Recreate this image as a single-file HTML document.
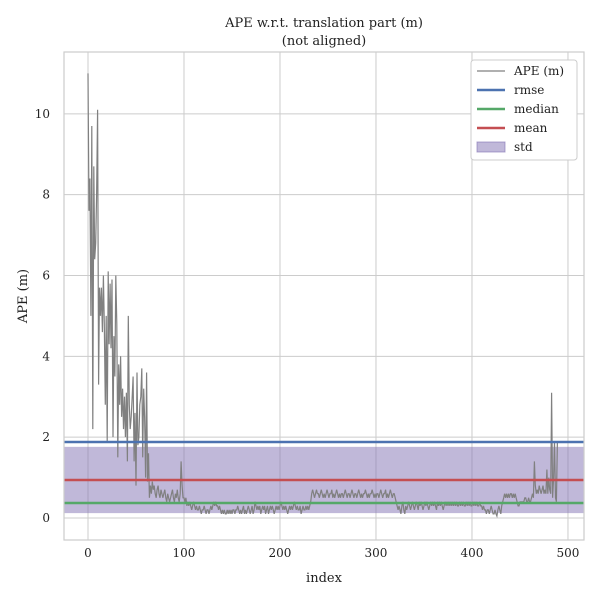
<!DOCTYPE html>
<html><head><meta charset="utf-8"><style>
body{margin:0;background:#fff}
svg text{font-family:"DejaVu Serif","Liberation Serif",serif;fill:#222}
</style></head><body>
<svg id="chart" width="600" height="600" xmlns="http://www.w3.org/2000/svg"></svg>
<script>
const apeValues=[
11.0,7.6,8.4,5.0,9.7,2.2,8.7,6.4,6.8,8.0,10.1,3.3,5.7,5.0,5.7,4.6,6.0,4.8,2.8,5.0,
1.9,6.1,4.3,5.8,4.2,5.9,2.0,4.5,3.5,6.0,4.8,1.5,3.8,2.8,4.0,2.5,3.2,2.2,3.0,2.0,
3.1,1.4,5.0,2.8,2.2,2.5,3.0,3.5,1.4,2.6,0.8,3.6,1.8,2.0,2.8,3.0,3.7,1.5,3.2,2.5,
1.0,3.6,0.9,1.6,0.5,0.8,0.6,0.9,0.7,0.8,
0.6,0.5,0.7,0.8,0.6,0.5,0.7,0.6,0.5,0.6,0.7,0.5,0.4,0.6,0.5,0.4,0.5,0.6,0.7,0.5,
0.4,0.6,0.5,0.7,0.5,0.4,0.6,1.4,0.8,0.5,
0.5,0.4,0.5,0.3,0.4,0.3,0.4,0.3,0.2,0.3,0.4,0.3,0.2,0.3,0.2,0.2,0.3,0.2,0.1,0.2,
0.2,0.3,0.2,0.1,0.2,0.2,0.1,0.2,0.3,0.2,
0.3,0.4,0.3,0.4,0.3,0.3,0.2,0.3,0.2,0.1,0.2,0.1,0.2,0.1,0.1,0.2,0.1,0.2,0.1,0.2,
0.1,0.2,0.2,0.1,0.2,0.2,0.3,0.2,0.1,0.2,0.1,0.2,0.3,0.1,0.2,0.1,0.2,0.3,0.2,0.1,
0.2,0.3,0.1,0.2,0.4,0.3,0.2,0.3,0.2,0.3,0.1,0.2,0.3,0.2,0.3,0.1,0.2,0.3,0.1,0.2,
0.3,0.2,0.3,0.2,0.1,0.2,0.3,0.2,0.3,0.2,0.3,0.4,0.3,0.2,0.3,0.2,0.3,0.2,0.1,0.2,
0.3,0.2,0.3,0.2,0.3,0.4,0.3,0.2,0.3,0.2,
0.2,0.3,0.1,0.2,0.3,0.2,0.2,0.3,0.2,0.3,0.2,0.3,
0.4,0.6,0.7,0.6,0.5,0.6,0.7,0.6,0.6,0.5,0.6,0.7,0.6,0.5,0.6,0.5,0.6,0.7,0.6,0.5,
0.6,0.6,0.7,0.5,0.6,0.5,0.6,0.7,0.6,0.5,0.6,0.5,0.6,0.6,0.5,0.6,0.7,0.6,0.5,0.6,
0.6,0.5,0.6,0.7,0.6,0.5,0.6,0.6,0.5,0.6,0.7,0.6,0.5,0.6,0.5,0.6,0.6,0.7,0.6,0.5,
0.6,0.5,0.6,0.6,0.7,0.6,0.5,0.6,0.5,0.6,0.6,0.5,0.6,0.7,0.6,0.5,0.6,0.6,0.7,0.5,
0.6,0.5,0.6,0.7,0.6,0.5,0.6,0.6,
0.5,0.4,0.3,0.2,0.3,0.2,0.1,0.3,0.4,0.2,0.1,0.3,0.2,0.3,0.4,0.3,0.2,0.3,0.4,0.3,
0.2,0.3,0.4,0.3,0.2,0.4,0.3,0.4,0.3,0.2,0.3,0.4,0.3,0.4,0.3,0.2,0.3,0.4,0.3,0.4,
0.3,0.4,0.3,0.2,0.4,0.3,0.4,0.3,0.4,0.3,0.2,0.3,0.4,0.3,0.4,0.3,0.4,0.3,0.4,0.3,
0.4,0.3,0.4,0.3,0.4,0.3,0.3,0.4,0.3,0.4,0.3,0.4,0.3,0.3,0.4,0.3,0.4,0.3,0.4,0.3,
0.3,0.4,0.3,0.4,0.3,0.4,0.3,0.3,0.4,0.3,
0.3,0.2,0.3,0.2,0.2,0.1,0.2,0.2,0.1,0.2,0.3,0.2,0.1,0.1,0.2,0.1,0.05,0.2,0.3,0.2,0.1,0.3,0.4,
0.5,0.6,0.5,0.6,0.5,0.6,0.5,0.6,0.6,0.5,0.6,0.5,0.6,0.5,0.4,0.3,0.3,0.4,0.4,0.4,
0.4,0.4,0.5,0.5,0.4,0.4,0.5,0.4,0.4,0.5,0.6,0.5,
1.4,0.8,0.6,0.7,0.6,0.8,0.7,0.6,0.7,0.8,0.6,0.7,0.6,1.2,0.6,1.0,0.7,0.6,
3.1,0.5,1.0,1.9,0.5,0.4,1.9
];
const rmse=1.88, median=0.37, mean=0.94, stdLo=0.12, stdHi=1.76;
const xTicks=[0,100,200,300,400,500];
const yTicks=[0,2,4,6,8,10];

const svg=document.getElementById('chart');
const NS='http://www.w3.org/2000/svg';
const L=64,R=584,T=52,B=540;
const xMin=-25,xMax=516.7,yMin=-0.545,yMax=11.53;
const sx=v=>L+(v-xMin)/(xMax-xMin)*(R-L);
const sy=v=>B-(v-yMin)/(yMax-yMin)*(B-T);
function el(tag,attrs,parent){const e=document.createElementNS(NS,tag);for(const k in attrs)e.setAttribute(k,attrs[k]);(parent||svg).appendChild(e);return e;}

const grid=el('g',{});


xTicks.forEach(t=>{
  const l=el('line',{x1:sx(t),x2:sx(t),y1:T,y2:B,stroke:'#cccccc','stroke-width':1},grid);
  
  
  const tx=el('text',{x:sx(t),y:B+17,'text-anchor':'middle','font-size':12});
  tx.textContent=t;
  
  
});
yTicks.forEach(t=>{
  const l=el('line',{x1:L,x2:R,y1:sy(t),y2:sy(t),stroke:'#cccccc','stroke-width':1},grid);
  
  
  const tx=el('text',{x:L-14,y:sy(t)+4,'text-anchor':'end','font-size':12});
  tx.textContent=t;
  
  
});
const band=el('rect',{x:L,y:sy(stdHi),width:R-L,height:sy(stdLo)-sy(stdHi),fill:'#8172b3','fill-opacity':0.5});


const pts=apeValues.map((v,i)=>sx(i).toFixed(1)+','+sy(v).toFixed(1)).join(' ');
const line=el('polyline',{points:pts,fill:'none',stroke:'#808080','stroke-width':1.2});


[[rmse,'#4c72b0','rmse-line'],[median,'#55a868','median-line'],[mean,'#c44e52','mean-line']].forEach(([v,c,n])=>{
  const l=el('line',{x1:L,x2:R,y1:sy(v),y2:sy(v),stroke:c,'stroke-width':2.5});
  
  
});
const frame=el('rect',{x:L,y:T,width:R-L,height:B-T,fill:'none',stroke:'#cccccc','stroke-width':1.2});



function txt(s,x,y,size,name,extra){const t=el('text',Object.assign({x:x,y:y,'font-size':size,'text-anchor':'middle'},extra||{}));t.textContent=s;return t;}
txt('APE w.r.t. translation part (m)',324,27,13,'chart-title');
txt('(not aligned)',324,45,13,'chart-subtitle');
txt('index',324,582,13,'x-axis-title');
txt('APE (m)',27,296,13,'y-axis-title',{transform:'rotate(-90 27 296)'});

const lg=el('g',{});


el('rect',{x:471,y:60,width:106,height:100,rx:3,fill:'#fff',stroke:'#cccccc'},lg);
const entries=[['APE (m)','#808080','line',1.2],['rmse','#4c72b0','line',2.5],['median','#55a868','line',2.5],['mean','#c44e52','line',2.5],['std','#8172b3','rect',0]];
entries.forEach((e,i)=>{
  const y=71+i*19;
  const g=el('g',{},lg);
  
  
  if(e[2]==='line') el('line',{x1:477,x2:505,y1:y,y2:y,stroke:e[1],'stroke-width':e[3]},g);
  else el('rect',{x:477,y:y-5,width:28,height:10,fill:e[1],'fill-opacity':0.5,stroke:e[1],'stroke-opacity':0.6},g);
  const t=el('text',{x:514,y:y+4,'font-size':12},g);
  t.textContent=e[0];
});
</script>
</body></html>
